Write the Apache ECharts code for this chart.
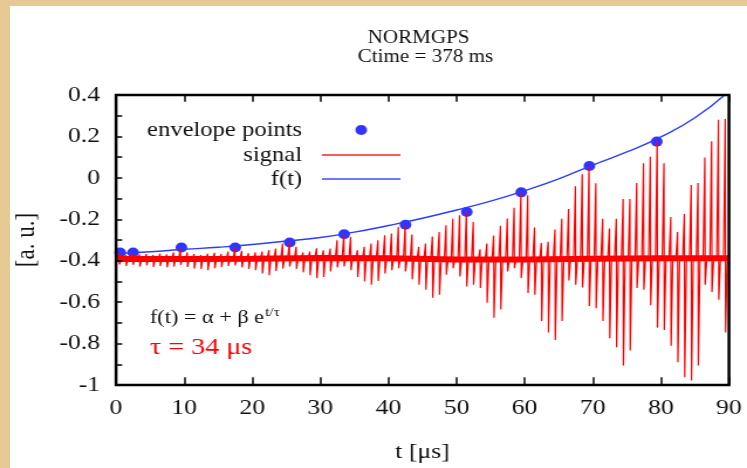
<!DOCTYPE html>
<html>
<head>
<meta charset="utf-8">
<script src="https://cdn.jsdelivr.net/npm/echarts@6/dist/echarts.min.js"></script>
<style>
  html, body { margin: 0; padding: 0; overflow: hidden; background: #e6c993; width: 747px; height: 468px; }
  #panel { position: absolute; left: 10px; top: 6px; width: 737px; height: 462px; background: #ffffff; }
  /* the figure is laid out narrower and widened horizontally */
  #c { position: absolute; left: 0; top: 0; width: 638px; height: 468px;
       transform: scaleX(1.17085); transform-origin: 0 0; }
</style>
</head>
<body>
<div id="panel"></div>
<div id="c"></div>
<script>
// envelope maxima of the pickup signal
const envT = [0.6, 2.5, 9.6, 17.5, 25.5, 33.5, 42.5, 51.5, 59.5, 69.5, 79.4];
const envV = [-0.360, -0.360, -0.336, -0.336, -0.312, -0.272, -0.226, -0.165, -0.070, 0.057, 0.175];

// fitted f(t) = alpha + beta * exp(t / tau), sampled every 5 us
const fitT = [0, 5, 10, 15, 20, 25, 30, 35, 40, 45, 50, 55, 60, 65, 70, 75, 80, 85, 90];
const fitV = [-0.365, -0.357, -0.345, -0.335, -0.322, -0.305, -0.288, -0.262, -0.230, -0.195,
              -0.155, -0.112, -0.062, -0.005, 0.062, 0.125, 0.198, 0.290, 0.418];

// signal baseline level, every 10 us
const baseT = [0, 10, 20, 30, 40, 50, 60, 70, 80, 90];
const baseV = [-0.392, -0.392, -0.390, -0.387, -0.388, -0.394, -0.394, -0.390, -0.388, -0.388];

// one bipolar pulse per microsecond (t = k + 0.45): upper and lower excursion
const pulseUp = [
  -0.362, -0.372, -0.362, -0.370, -0.368, -0.372, -0.366, -0.370, -0.360, -0.340,
  -0.360, -0.368, -0.372, -0.366, -0.362, -0.368, -0.356, -0.336, -0.352, -0.364,
  -0.360, -0.356, -0.349, -0.341, -0.317, -0.312, -0.333, -0.360, -0.356, -0.340,
  -0.350, -0.341, -0.301, -0.274, -0.285, -0.349, -0.333, -0.317, -0.301, -0.277,
  -0.269, -0.237, -0.228, -0.274, -0.333, -0.317, -0.283, -0.261, -0.229, -0.197,
  -0.181, -0.163, -0.213, -0.345, -0.317, -0.279, -0.231, -0.196, -0.144, -0.070,
  -0.084, -0.240, -0.315, -0.309, -0.249, -0.197, -0.150, -0.041, 0.017, 0.055,
  -0.026, -0.197, -0.245, -0.197, -0.102, -0.102, -0.025, 0.070, 0.102, 0.177,
  0.070, -0.189, -0.261, -0.175, -0.035, -0.025, 0.098, 0.177, 0.281, 0.284
];
const pulseDown = [
  -0.418, -0.425, -0.420, -0.428, -0.422, -0.430, -0.425, -0.432, -0.428, -0.420,
  -0.430, -0.438, -0.440, -0.446, -0.436, -0.430, -0.425, -0.422, -0.432, -0.440,
  -0.446, -0.462, -0.470, -0.450, -0.438, -0.428, -0.440, -0.456, -0.470, -0.484,
  -0.478, -0.452, -0.432, -0.428, -0.446, -0.478, -0.500, -0.516, -0.498, -0.462,
  -0.446, -0.436, -0.452, -0.490, -0.516, -0.540, -0.579, -0.564, -0.468, -0.436,
  -0.476, -0.524, -0.516, -0.532, -0.603, -0.675, -0.635, -0.452, -0.436, -0.484,
  -0.556, -0.564, -0.691, -0.747, -0.783, -0.691, -0.495, -0.516, -0.529, -0.619,
  -0.630, -0.691, -0.774, -0.818, -0.906, -0.834, -0.532, -0.540, -0.615, -0.723,
  -0.735, -0.810, -0.890, -0.962, -0.978, -0.906, -0.516, -0.551, -0.588, -0.747
];

// tick positions on the frame
const xTicks = [0, 10, 20, 30, 40, 50, 60, 70, 80, 90];
const yTicks = [-1, -0.9, -0.8, -0.7, -0.6, -0.5, -0.4, -0.3, -0.2, -0.1, 0, 0.1, 0.2, 0.3, 0.4];

const SERIF = 'Liberation Serif, serif';
const INK = '#111';
const X_MIN = 0, X_MAX = 90, Y_MIN = -1, Y_MAX = 0.4;
// inward tick lengths, in axis units
const TICK_BOTTOM = 0.038, TICK_TOP = 0.033, TICK_LEFT = 0.9;

function baseAt(t) {
  const i = Math.min(Math.floor(t / 10), baseT.length - 2);
  const f = (t - baseT[i]) / (baseT[i + 1] - baseT[i]);
  return baseV[i] + (baseV[i + 1] - baseV[i]) * f;
}

const envData = envT.map((t, i) => [t, envV[i]]);
const fitData = fitT.map((t, i) => [t, fitV[i]]);
const bandData = baseT.map((t, i) => [t, baseV[i]]);
const pulseData = [];
pulseUp.forEach((u, k) => {
  pulseData.push([k + 0.2, baseAt(k + 0.2)]);
  pulseData.push([k + 0.45, u]);
  pulseData.push([k + 0.5, pulseDown[k]]);
  pulseData.push([k + 0.75, baseAt(k + 0.75)]);
});

// plot frame outline and its tick segments
const frameData = [[X_MIN, Y_MAX], [X_MAX, Y_MAX], [X_MAX, Y_MIN], [X_MIN, Y_MIN], [X_MIN, Y_MAX]];
const tickSegments = [];
xTicks.forEach((v) => {
  tickSegments.push([{ coord: [v, Y_MIN] }, { coord: [v, Y_MIN + TICK_BOTTOM] }]);
  tickSegments.push([{ coord: [v, Y_MAX] }, { coord: [v, Y_MAX - TICK_TOP] }]);
});
yTicks.forEach((v) => {
  tickSegments.push([{ coord: [X_MIN, v] }, { coord: [X_MIN + TICK_LEFT, v] }]);
});

const legendCommon = {
  orient: 'horizontal', align: 'right', right: 296, padding: 0,
  itemWidth: 67, selectedMode: false,
  textStyle: { fontFamily: SERIF, fontSize: 21, color: INK, padding: [0, 12, 0, 0] }
};

const textEls = [
  { type: 'text', x: 357.5, y: 38, style: { text: 'NORMGPS', font: '18px ' + SERIF, fill: INK, align: 'center', verticalAlign: 'middle' } },
  { type: 'text', x: 363.4, y: 57, style: { text: 'Ctime = 378 ms', font: '18px ' + SERIF, fill: INK, align: 'center', verticalAlign: 'middle' } },
  { type: 'text', x: 128, y: 318, z: 10, style: {
      text: '{a|f(t) = α + β e}{b|t/τ}', verticalAlign: 'middle',
      rich: {
        a: { font: '19px ' + SERIF, fill: INK, lineHeight: 24 },
        b: { font: '13px ' + SERIF, fill: INK, verticalAlign: 'top', padding: [0, 0, 0, 1] }
      } } },
  { type: 'text', x: 128, y: 348, z: 10, style: { text: 'τ = 34 μs', font: '24px ' + SERIF, fill: '#ff0000', verticalAlign: 'middle' } }
];

const chart = echarts.init(document.getElementById('c'), null, { renderer: 'canvas' });
chart.setOption({
  backgroundColor: 'transparent',
  animation: false,
  textStyle: { fontFamily: SERIF },
  grid: { left: 99.1, right: 15.4, top: 95, bottom: 80 },
  legend: [
    // the dot's box is trimmed to the dot, so its right edge sits 28.5 further left
    Object.assign({}, legendCommon, { top: 119.5, itemHeight: 10, right: 324.5,
      data: [{ name: 'envelope points', icon: 'circle' }] }),
    Object.assign({}, legendCommon, { top: 144.5, itemHeight: 1.5,
      data: [{ name: 'signal', icon: 'rect' }] }),
    Object.assign({}, legendCommon, { top: 168.5, itemHeight: 1.5,
      data: [{ name: 'f(t)', icon: 'rect' }] })
  ],
  xAxis: {
    type: 'value', min: X_MIN, max: X_MAX, interval: 10, position: 'bottom',
    axisLine: { show: false, onZero: false }, axisTick: { show: false }, splitLine: { show: false },
    axisLabel: { fontFamily: SERIF, fontSize: 22, color: INK, margin: 12 },
    name: 't [μs]', nameLocation: 'middle', nameGap: 56,
    nameTextStyle: { fontFamily: SERIF, fontSize: 22, color: INK }
  },
  yAxis: {
    type: 'value', min: Y_MIN, max: Y_MAX, interval: 0.2, position: 'left',
    axisLine: { show: false, onZero: false }, axisTick: { show: false }, splitLine: { show: false },
    axisLabel: { fontFamily: SERIF, fontSize: 22, color: INK, margin: 13.5 },
    name: '[a. u.]', nameLocation: 'middle', nameGap: 65, nameRotate: 90,
    nameTextStyle: { fontFamily: SERIF, fontSize: 23, color: INK }
  },
  series: [{
    name: 'envelope points', type: 'scatter', data: envData,
    symbol: 'circle', symbolSize: 10, itemStyle: { color: '#0000ff' }, z: 2
  }, {
    name: 'signal', type: 'line', data: bandData, symbol: 'none', silent: true,
    lineStyle: { color: '#ff0000', width: 6 }, itemStyle: { color: '#ff2020' }, z: 3
  }, {
    name: 'signal', type: 'line', data: pulseData, symbol: 'none', silent: true,
    lineStyle: { color: '#ff0000', width: 1.2 }, itemStyle: { color: '#ff2020' }, z: 3
  }, {
    name: 'f(t)', type: 'line', data: fitData, smooth: true, symbol: 'none',
    lineStyle: { color: '#2a3cff', width: 1.4 }, itemStyle: { color: '#3a4cff' }, z: 4
  }, {
    name: 'frame', type: 'line', data: frameData, symbol: 'none', silent: true, clip: false,
    lineStyle: { color: '#000000', width: 2.5, join: 'miter', cap: 'square' },
    itemStyle: { color: '#000000' }, z: 10,
    markLine: {
      silent: true, symbol: ['none', 'none'], animation: false,
      label: { show: false },
      lineStyle: { color: '#000000', width: 1.5, type: 'solid', opacity: 1 },
      emphasis: { disabled: true },
      data: tickSegments
    }
  }],
  graphic: { elements: textEls }
});
</script>
</body>
</html>
